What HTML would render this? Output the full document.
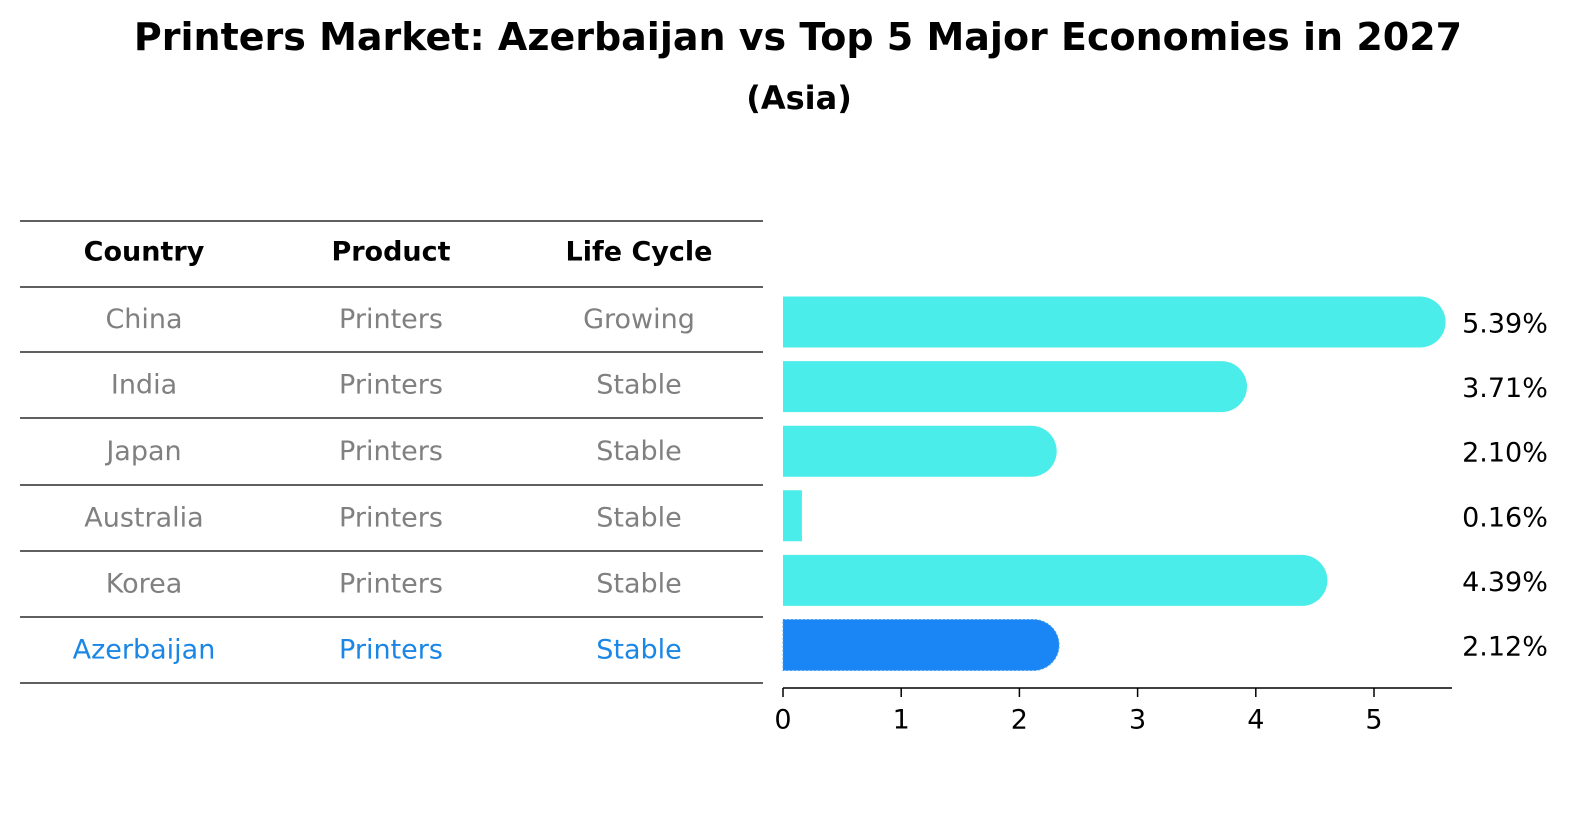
<!DOCTYPE html>
<html><head><meta charset="utf-8"><style>
body{margin:0;background:#fff;font-family:"Liberation Sans","DejaVu Sans",sans-serif;}
#wrap{position:relative;width:1586px;height:823px;overflow:hidden;}
.t{position:absolute;white-space:nowrap;transform:translate(-50%,-50%);}
</style></head><body>
<div id="wrap">
<div class="t" style="left:798px;top:37px;font-size:38px;font-weight:bold;font-family:'DejaVu Sans',sans-serif;">Printers Market: Azerbaijan vs Top 5 Major Economies in 2027</div>
<div class="t" style="left:799px;top:98px;font-size:32px;font-weight:bold;font-family:'DejaVu Sans',sans-serif;">(Asia)</div>
<svg id="svg" width="1586" height="823" style="position:absolute;left:0;top:0"></svg>
</div>
<script>
const countries=["China","India","Japan","Australia","Korea","Azerbaijan"];
const products=["Printers","Printers","Printers","Printers","Printers","Printers"];
const lifeCycles=["Growing","Stable","Stable","Stable","Stable","Stable"];
const values=[5.39,3.71,2.10,0.16,4.39,2.12];
const valueLabels=["5.39%","3.71%","2.10%","0.16%","4.39%","2.12%"];
const ticks=[0,1,2,3,4,5];

const NS="http://www.w3.org/2000/svg";
const svg=document.getElementById('svg');
const F="'DejaVu Sans',sans-serif";
const x0=783,ppu=118.2;
const xs=v=>x0+v*ppu;
const rowY=i=>322+i*64.6;
const lineY=[221,287,352,418,485,551,617,683];
const colX=[144,391,639];
function mk(tag,attrs){const e=document.createElementNS(NS,tag);for(const k in attrs)e.setAttribute(k,attrs[k]);svg.appendChild(e);return e;}
function txt(x,y,s,opt){const e=mk('text',Object.assign({x:x,y:y,'font-family':F,'font-size':27,'dominant-baseline':'central'},opt||{}));e.textContent=s;return e;}

lineY.forEach((y,i)=>{const l=mk('line',{x1:20,x2:763,y1:y,y2:y,stroke:'#000','stroke-width':1.2});

});
["Country","Product","Life Cycle"].forEach((h,j)=>{const t=txt(colX[j],252,h,{'text-anchor':'middle','font-weight':'bold'});

});
countries.forEach((c,i)=>{
  const y=(lineY[i+1]+lineY[i+2])/2;
  const col=c==="Azerbaijan"?'#1a86e6':'#808080';
  [c,products[i],lifeCycles[i]].forEach((s,j)=>{const t=txt(colX[j],y,s,{'text-anchor':'middle',fill:col});
  
  });
});
const h=51,r=25.5;
values.forEach((v,i)=>{
  const y=rowY(i)-h/2,xe=xs(v);
  const fill=countries[i]==="Azerbaijan"?'#1a86f5':'#4aedea';
  let d;
  if(v<0.5){d=`M${x0},${y}H${xe}V${y+h}H${x0}Z`;}
  else{d=`M${x0},${y}H${xe}A${r},${r} 0 0 1 ${xe},${y+h}H${x0}Z`;}
  const p=mk('path',{d:d,fill:fill});
  if(countries[i]==="Azerbaijan"){p.setAttribute('stroke','#4aa0f0');p.setAttribute('stroke-dasharray','2,2');p.setAttribute('stroke-width','1');}
  
  
  const t=txt(1505,rowY(i)+2,valueLabels[i],{'text-anchor':'middle'});
  
  
});
const ax=mk('line',{x1:x0,x2:1452,y1:688,y2:688,stroke:'#000','stroke-width':1.5});


ticks.forEach(tv=>{
  const tl=mk('line',{x1:xs(tv),x2:xs(tv),y1:688,y2:697,stroke:'#000','stroke-width':1.5});
  
  
  const t=txt(xs(tv),720,String(tv),{'text-anchor':'middle'});
  
  
});
</script>
</body></html>
